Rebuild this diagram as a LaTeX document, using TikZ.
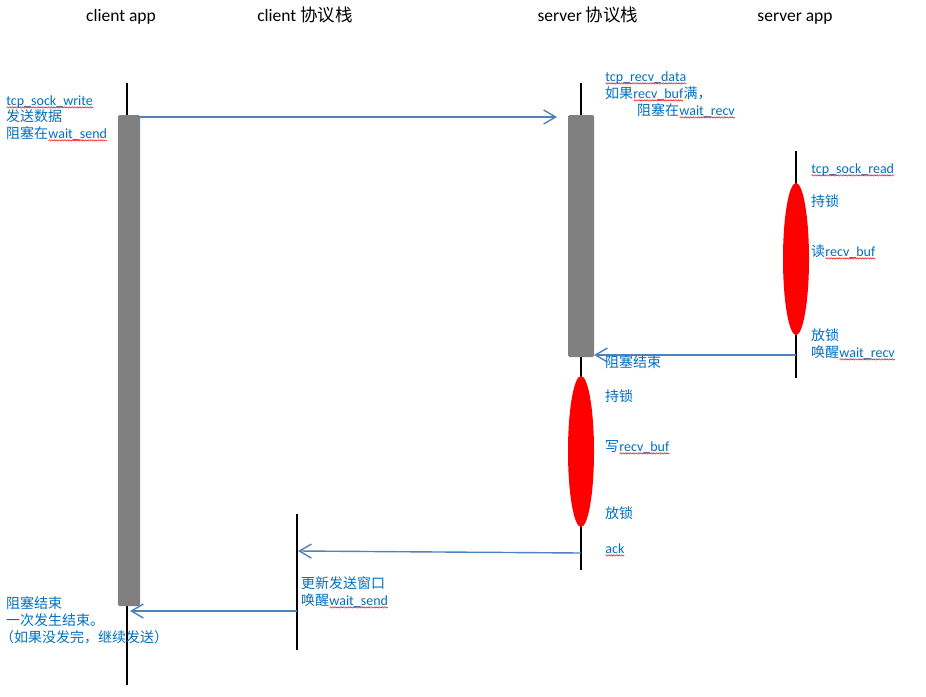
\documentclass[tikz,border=0pt]{standalone}
\usepackage{fontspec}
\setmainfont{Carlito}
\newfontfamily\cjk{Noto Sans CJK SC}
\usetikzlibrary{arrows.meta,decorations.pathmorphing}
\definecolor{tblue}{RGB}{0,112,192}
\definecolor{ablue}{RGB}{79,129,189}
\definecolor{bargray}{RGB}{128,128,128}
\newcommand\zh[1]{{\cjk #1}}
\newcommand\sq[1]{\tikz[baseline=(w.base)]{\node[inner sep=0pt,outer sep=0pt,anchor=base,text=tblue](w){#1};\draw[red,line width=0.5pt,decorate,decoration={snake,amplitude=0.7pt,segment length=2.6pt}]([yshift=-2.4pt]w.base west)--([yshift=-2.4pt]w.base east);}}
\tikzset{
  head/.style={anchor=base, inner sep=0pt, font=\fontsize{17.5}{20}\selectfont},
  txt/.style={anchor=base west, inner sep=0pt, text=tblue, font=\fontsize{14}{16}\selectfont},
  life/.style={line width=1.6pt, black},
  bar/.style={fill=bargray, draw=none, rounded corners=1.5pt},
  lock/.style={fill=red, draw=none},
  msg/.style={ablue, line width=1.4pt, -{Straight Barb[length=12pt,width=14pt,line width=1.4pt]}},
}
\begin{document}
\begin{tikzpicture}[x=1pt,y=-1pt]
\useasboundingbox[fill=white] (0,0) rectangle (926,696);
% headers
\node[head] (h1) at (121,21) {client app};
\node[head] (h2) at (305,21) {client \zh{协议栈}};
\node[head] (h3) at (588,21) {server \zh{协议栈}};
\node[head] (h4) at (795,21) {server app};
% lifelines
\coordinate (ca1) at (127,83); \coordinate (ca2) at (127,685);
\coordinate (cp1) at (297,514); \coordinate (cp2) at (297,650);
\coordinate (sp1) at (581,83); \coordinate (sp2) at (581,570);
\coordinate (sa1) at (796,151); \coordinate (sa2) at (796,378);
\draw[life] (ca1) -- (ca2);
\draw[life] (cp1) -- (cp2);
\draw[life] (sp1) -- (sp2);
\draw[life] (sa1) -- (sa2);
% activation bars
\path[bar] (118,115) rectangle (140,606);
\path[bar] (568,115) rectangle (594,357);
\node[inner sep=0pt, minimum width=22pt, minimum height=491pt] (cbar) at (129,360.5) {};
\node[inner sep=0pt, minimum width=26pt, minimum height=242pt] (sbar) at (581,236) {};
% lock ellipses
\fill[lock] (796,259) ellipse [x radius=13, y radius=76];
\fill[lock] (581,451.5) ellipse [x radius=13, y radius=75.5];
% message endpoints
\coordinate (m1s) at (140,117); \coordinate (m1e) at (557,117);
\coordinate (m2s) at (796,355); \coordinate (m2e) at (594,355);
\coordinate (m3s) at (581,553); \coordinate (m3e) at (298,551);
\coordinate (m4s) at (297,611); \coordinate (m4e) at (130,611);
\draw[msg] (m1s) -- (m1e);
\draw[msg] (m2s) -- (m2e);
\draw[msg] (m3s) -- (m3e);
\draw[msg] (m4s) -- (m4e);
% client app texts
\node[txt] (t1) at (6,105) {\sq{tcp\_sock\_write}};
\node[txt] (t2) at (6,121) {\zh{发送数据}};
\node[txt] (t3) at (6,138) {\zh{阻塞在}\sq{wait\_send}};
% server protocol texts
\node[txt] (s1) at (605,81) {\sq{tcp\_recv\_data}};
\node[txt] (s2) at (605,98) {\zh{如果}\sq{recv\_buf}\zh{满，}};
\node[txt] (s3) at (637,115) {\zh{阻塞在}\sq{wait\_recv}};
% server app texts
\node[txt] (a1) at (811,173) {\sq{tcp\_sock\_read}};
\node[txt] (a2) at (811,206) {\zh{持锁}};
\node[txt] (a3) at (811,256) {\zh{读}\sq{recv\_buf}};
\node[txt] (a4) at (811,340) {\zh{放锁}};
\node[txt] (a5) at (811,357) {\zh{唤醒}\sq{wait\_recv}};
% server protocol lower texts
\node[txt] (p1) at (605,367) {\zh{阻塞结束}};
\node[txt] (p2) at (605,401) {\zh{持锁}};
\node[txt] (p3) at (605,451) {\zh{写}\sq{recv\_buf}};
\node[txt] (p4) at (605,518) {\zh{放锁}};
\node[txt] (p5) at (605,553) {\sq{ack}};
% client protocol texts
\node[txt] (c1) at (301,588) {\zh{更新发送窗口}};
\node[txt] (c2) at (301,605) {\zh{唤醒}\sq{wait\_send}};
% client app bottom texts
\node[txt] (b1) at (6,608) {\zh{阻塞结束}};
\node[txt] (b2) at (6,625) {\zh{一次发生结束。}};
\node[txt] (b3) at (0,642) {\zh{（如果没发完，继续发送）}};
\end{tikzpicture}
\end{document}
